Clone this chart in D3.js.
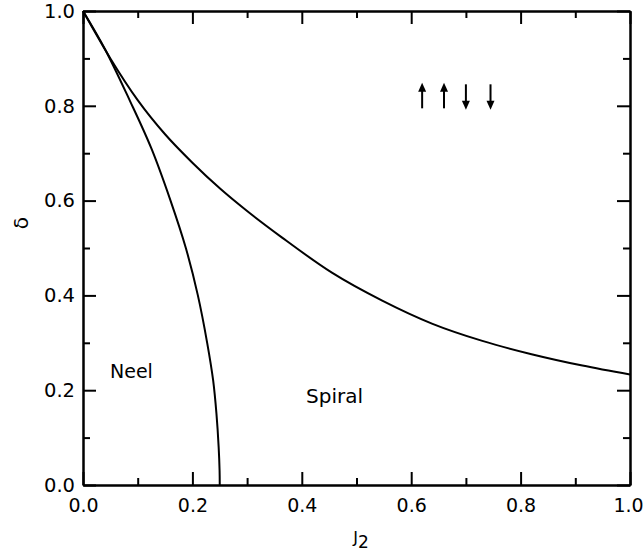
<!DOCTYPE html>
<html>
<head>
<meta charset="utf-8">
<script src="https://cdn.jsdelivr.net/npm/d3@7"></script>
<style>
body{margin:0;background:#fff;}
text{font-family:"DejaVu Sans",sans-serif;fill:#000;}
</style>
</head>
<body>
<div id="chart"></div>
<script>
// phase boundary Neel / Spiral
var neelJ2 = [0, 0.040, 0.086, 0.125, 0.160, 0.188, 0.210, 0.227, 0.238, 0.244, 0.248, 0.2497, 0.25];
var neelDelta = [1.0, 0.92, 0.81, 0.71, 0.60, 0.50, 0.40, 0.30, 0.22, 0.15, 0.08, 0.03, 0.0];

// Spiral / up-up-down-down boundary
var upperJ2 = [0, 0.05, 0.10, 0.15, 0.20, 0.25, 0.30, 0.364, 0.455, 0.547, 0.639, 0.73, 0.82, 0.913, 1.0];
var upperDelta = [1.0, 0.90, 0.812, 0.740, 0.680, 0.626, 0.578, 0.522, 0.448, 0.389, 0.340, 0.304, 0.276, 0.252, 0.233];

// spin arrows of the uudd phase
var spinJ2 = [0.62, 0.66, 0.70, 0.745];
var spinDir = [1, 1, -1, -1];

var xMajor = [0, 0.2, 0.4, 0.6, 0.8, 1.0];
var yMajor = [0, 0.2, 0.4, 0.6, 0.8, 1.0];
var minorTicks = [0.1, 0.3, 0.5, 0.7, 0.9];

var svg = d3.select("#chart")
	.append("svg")
	.attr("width", 644)
	.attr("height", 554);

var x = d3.scaleLinear().domain([0, 1]).range([83, 630]);
var y = d3.scaleLinear().domain([0, 1]).range([485, 11]);
var fmt = d3.format(".1f");

function axisGroup(ax, tx, ty){
	var g = svg.append("g")
		.attr("transform", "translate(" + tx + "," + ty + ")")
		.call(ax);
	g.select(".domain").attr("stroke", "#000").attr("stroke-width", 2);
	g.selectAll(".tick line").attr("stroke", "#000").attr("stroke-width", 2);
	return g;
}

// major ticks, labels on bottom and left only
var gb = axisGroup(d3.axisBottom(x).tickValues(xMajor).tickFormat(fmt).tickSizeInner(-13).tickSizeOuter(0).tickPadding(0), 0, y(0));
gb.selectAll(".tick text")
	.attr("font-size", 19)
	.attr("y", 27)
	.attr("dy", 0)
	.attr("x", function(d){ return d == 1 ? -2 : 0; });
var gl = axisGroup(d3.axisLeft(y).tickValues(yMajor).tickFormat(fmt).tickSizeInner(-13).tickSizeOuter(0).tickPadding(8), x(0), 0);
gl.selectAll(".tick text").attr("font-size", 19.5).attr("x", -8);
axisGroup(d3.axisTop(x).tickValues(xMajor).tickFormat("").tickSizeInner(-13).tickSizeOuter(0), 0, y(1));
axisGroup(d3.axisRight(y).tickValues(yMajor).tickFormat("").tickSizeInner(-13).tickSizeOuter(0), x(1), 0);

// minor ticks
axisGroup(d3.axisBottom(x).tickValues(minorTicks).tickFormat("").tickSizeInner(-7).tickSizeOuter(0), 0, y(0));
axisGroup(d3.axisTop(x).tickValues(minorTicks).tickFormat("").tickSizeInner(-7).tickSizeOuter(0), 0, y(1));
axisGroup(d3.axisLeft(y).tickValues(minorTicks).tickFormat("").tickSizeInner(-7).tickSizeOuter(0), x(0), 0);
axisGroup(d3.axisRight(y).tickValues(minorTicks).tickFormat("").tickSizeInner(-7).tickSizeOuter(0), x(1), 0);

// boundary curves
var line = d3.line()
	.x(function(d){ return x(d[0]); })
	.y(function(d){ return y(d[1]); })
	.curve(d3.curveCatmullRom);

svg.append("path")
	.datum(d3.zip(neelJ2, neelDelta))
	.attr("d", line)
	.attr("fill", "none")
	.attr("stroke", "#000")
	.attr("stroke-width", 2);

svg.append("path")
	.datum(d3.zip(upperJ2, upperDelta))
	.attr("d", line.curve(d3.curveMonotoneX))
	.attr("fill", "none")
	.attr("stroke", "#000")
	.attr("stroke-width", 2);

// spin arrows
var arrows = svg.selectAll(".spin")
	.data(d3.zip(spinJ2, spinDir))
	.enter()
	.append("g")
	.attr("class", "spin")
	.attr("transform", function(d){ return "translate(" + x(d[0]) + "," + y(0.82) + ")"; });

arrows.append("line")
	.attr("x1", 0).attr("x2", 0)
	.attr("y1", function(d){ return d[1] > 0 ? 12 : -12; })
	.attr("y2", function(d){ return d[1] > 0 ? -6 : 6; })
	.attr("stroke", "#000")
	.attr("stroke-width", 2);

arrows.append("path")
	.attr("d", function(d){
		return d[1] > 0 ? "M0,-13.5 L-4,-4.5 L4,-4.5 Z" : "M0,13.5 L-4,4.5 L4,4.5 Z";
	})
	.attr("fill", "#000");

// region labels
svg.append("text")
	.attr("x", 110)
	.attr("y", 378)
	.attr("font-size", 19)
	.text("Neel");

svg.append("text")
	.attr("x", 306)
	.attr("y", 403)
	.attr("font-size", 20)
	.text("Spiral");

// axis titles
var xt = svg.append("text")
	.attr("x", 361)
	.attr("y", 543)
	.attr("text-anchor", "middle")
	.attr("font-size", 16);
xt.append("tspan").text("J");
xt.append("tspan").attr("dy", 5).attr("font-size", 17).text("2");

svg.append("text")
	.attr("transform", "translate(28,223) rotate(-90)")
	.attr("text-anchor", "middle")
	.attr("font-size", 20)
	.text("δ");
</script>
</body>
</html>
